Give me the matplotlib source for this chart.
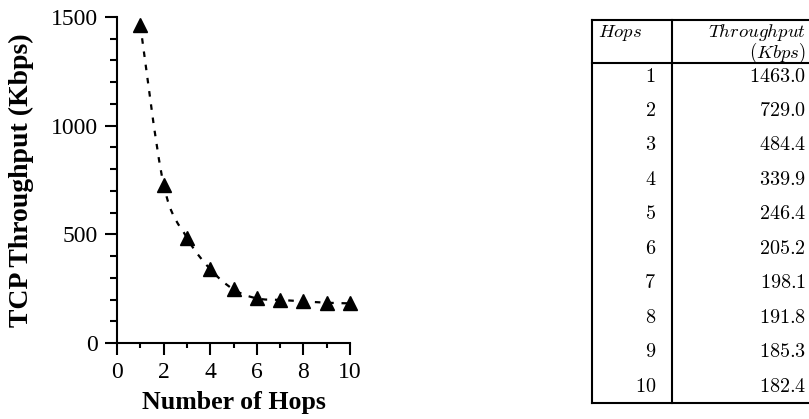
import numpy as np
import matplotlib
matplotlib.use("Agg")
import matplotlib.pyplot as plt
from matplotlib.path import Path
from matplotlib.patches import PathPatch
from matplotlib.ticker import MultipleLocator

plt.rcParams['font.family'] = ['Liberation Serif', 'DejaVu Serif']
plt.rcParams['mathtext.fontset'] = 'cm'

hops = [1, 2, 3, 4, 5, 6, 7, 8, 9, 10]
throughput = [1463.0, 729.0, 484.4, 339.9, 246.4, 205.2, 198.1, 191.8, 185.3, 182.4]
col_labels = ["Hops", "Throughput", "(Kbps)"]

W, H = 809, 419
fig = plt.figure(figsize=(W / 100, H / 100), dpi=100)


def fig_rect(x0, y0, x1, y1):
    # pixel box (top-left origin) -> figure fraction
    return [x0 / W, 1 - y1 / H, (x1 - x0) / W, (y1 - y0) / H]


# ---- plot ----
ax = fig.add_axes(fig_rect(117, 17, 350, 343))
ax.set_xlim(0, 10)
ax.set_ylim(0, 1500)

# smooth dashed curve through the points (catmull-rom -> bezier)
xs = np.array(hops, dtype=float)
ys = np.array(throughput)
verts = [(xs[0], ys[0])]
codes = [Path.MOVETO]
n = len(xs)
for i in range(n - 1):
    p0 = np.array([xs[max(i - 1, 0)], ys[max(i - 1, 0)]])
    p1 = np.array([xs[i], ys[i]])
    p2 = np.array([xs[i + 1], ys[i + 1]])
    p3 = np.array([xs[min(i + 2, n - 1)], ys[min(i + 2, n - 1)]])
    c1 = p1 + (p2 - p0) / 6.0
    c2 = p2 - (p3 - p1) / 6.0
    verts += [tuple(c1), tuple(c2), tuple(p2)]
    codes += [Path.CURVE4] * 3
curve = PathPatch(Path(verts, codes), fill=False, edgecolor='black',
                  linewidth=1.6, linestyle=(0, (2.5, 3.5)))
ax.add_patch(curve)
ax.plot(hops, throughput, linestyle='none', marker='^', markersize=9.5,
        color='black', clip_on=False, zorder=3)

for s in ['top', 'right']:
    ax.spines[s].set_visible(False)
for s in ['left', 'bottom']:
    ax.spines[s].set_linewidth(1.5)

ax.xaxis.set_major_locator(MultipleLocator(2))
ax.xaxis.set_minor_locator(MultipleLocator(1))
ax.yaxis.set_major_locator(MultipleLocator(500))
ax.yaxis.set_minor_locator(MultipleLocator(100))
ax.tick_params(which='major', direction='out', length=8.6, width=1.5,
               labelsize=17, pad=5)
ax.tick_params(axis='y', which='minor', direction='out', length=5, width=1.5)
ax.tick_params(axis='x', which='minor', direction='out', length=3.6, width=1.5)

ax.set_xlabel("Number of Hops", fontsize=18.6, fontweight='bold')
ax.set_ylabel("TCP Throughput (Kbps)", fontsize=20, fontweight='bold')
ax.xaxis.set_label_coords(0.5, (343 - 391) / 326)
ax.yaxis.set_label_coords((34 - 117) / 233, 0.5)

# ---- table ----
tx0, ty0, tx1, ty1 = 592, 20, 809, 403
tab = fig.add_axes(fig_rect(tx0, ty0, tx1, ty1))
tab.set_xlim(0, tx1 - tx0)
tab.set_ylim(ty1 - ty0, 0)
tab.axis('off')

lw = 1.5
div = 672 - tx0
head = 63 - ty0
bot = ty1 - ty0
tab.plot([0, tx1 - tx0], [0, 0], color='black', lw=lw, clip_on=False)
tab.plot([0, tx1 - tx0], [head, head], color='black', lw=lw, clip_on=False)
tab.plot([0, tx1 - tx0], [bot, bot], color='black', lw=lw, clip_on=False)
tab.plot([0, 0], [0, bot], color='black', lw=lw, clip_on=False)
tab.plot([div, div], [0, bot], color='black', lw=lw, clip_on=False)

fs = 14.5
hfs = 13.5
tab.text(620 - tx0, 37 - ty0, "$" + col_labels[0] + "$", ha='center', va='baseline', fontsize=hfs)
tab.text(806 - tx0, 37 - ty0, "$" + col_labels[1] + "$", ha='right', va='baseline', fontsize=hfs)
tab.text(806 - tx0, 58 - ty0, "$" + col_labels[2] + "$", ha='right', va='baseline', fontsize=hfs)

row0 = 77 - ty0
step = (387 - 77) / 9
for i, (h, t) in enumerate(zip(hops, throughput)):
    y = row0 + i * step
    tab.text(656 - tx0, y, "$%d$" % h, ha='right', va='center', fontsize=fs)
    tab.text(806 - tx0, y, "$%.1f$" % t, ha='right', va='center', fontsize=fs)

fig.savefig("out.png", dpi=100)
